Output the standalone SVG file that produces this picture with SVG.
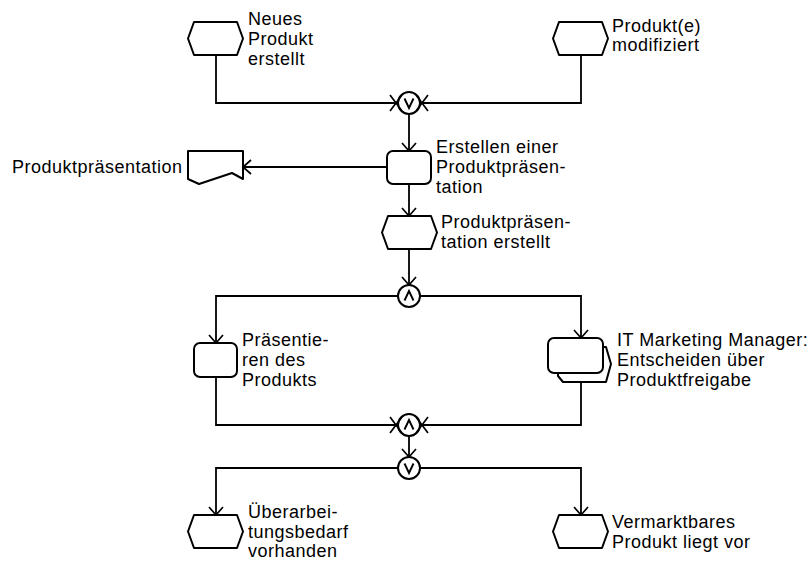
<svg xmlns="http://www.w3.org/2000/svg" xmlns:xlink="http://www.w3.org/1999/xlink" width="810" height="563" viewBox="0 0 810 563">
  <style>
    .shape { fill: #ffffff; stroke: #000000; stroke-width: 2; stroke-linejoin: round; }
    .line { fill: none; stroke: #000000; stroke-width: 1.8; }
    .op { fill: none; stroke: #000000; stroke-width: 1.9; }
    .lbl { font-family: "Liberation Sans", Arial, sans-serif; font-size: 18px; letter-spacing: 0.5px; fill: #000000; }
  </style>
  <defs>
    <marker id="arrow" markerUnits="userSpaceOnUse" viewBox="-10 -9 12 18" refX="0" refY="0" markerWidth="12" markerHeight="18" orient="auto">
      <path d="M-8,-7 L0,0 L-8,7" fill="none" stroke="#000000" stroke-width="1.7"/>
    </marker>
    <g id="xmark">
      <path d="M-6,-8 L6,8 M-6,8 L6,-8" fill="none" stroke="#000000" stroke-width="1.7"/>
    </g>
    <path id="evt" d="M6,0 H49 L55,16.5 L49,33 H6 L0,16.5 Z"/>
  </defs>

  <!-- connectors -->
  <g id="connectors">
    <path class="line" d="M216,55 V103 H398"/>
    <path class="line" d="M581,55 V103 H420"/>
    <path class="line" d="M409,114 V151" marker-end="url(#arrow)"/>
    <path class="line" d="M387,167 H243" marker-end="url(#arrow)"/>
    <path class="line" d="M409,184 V216" marker-end="url(#arrow)"/>
    <path class="line" d="M409,248 V285" marker-end="url(#arrow)"/>
    <path class="line" d="M398,296 H216 V343" marker-end="url(#arrow)"/>
    <path class="line" d="M420,296 H581 V338" marker-end="url(#arrow)"/>
    <path class="line" d="M216,377 V425 H398"/>
    <path class="line" d="M581,382 V425 H420"/>
    <path class="line" d="M409,436 V457" marker-end="url(#arrow)"/>
    <path class="line" d="M398,468 H216 V515" marker-end="url(#arrow)"/>
    <path class="line" d="M420,468 H581 V515" marker-end="url(#arrow)"/>
  </g>

  <!-- events -->
  <g id="ev-neues-produkt">
    <use xlink:href="#evt" class="shape" x="188" y="22"/>
    <text class="lbl" x="248" y="25">Neues</text>
    <text class="lbl" x="248" y="45">Produkt</text>
    <text class="lbl" x="248" y="65">erstellt</text>
  </g>
  <g id="ev-produkt-modifiziert">
    <use xlink:href="#evt" class="shape" x="553" y="22"/>
    <text class="lbl" x="612" y="32">Produkt(e)</text>
    <text class="lbl" x="612" y="51">modifiziert</text>
  </g>

  <!-- rule: XOR -->
  <g id="rule-xor-1">
    <circle class="shape" cx="409" cy="103" r="11"/>
    <path class="op" d="M404.5,98.5 L409,108 L413.5,98.5"/>
    <use xlink:href="#xmark" x="396" y="103"/>
    <use xlink:href="#xmark" x="422" y="103"/>
  </g>

  <!-- function: create presentation -->
  <g id="fn-erstellen">
    <rect class="shape" x="387" y="151" width="44" height="33" rx="6" ry="6"/>
    <text class="lbl" x="436" y="153">Erstellen einer</text>
    <text class="lbl" x="436" y="173">Produktpräsen-</text>
    <text class="lbl" x="436" y="193">tation</text>
  </g>

  <!-- output document -->
  <g id="doc-praesentation">
    <path class="shape" d="M188,151 H243 V179 L232,173 L199,184 L188,179 Z"/>
    <text class="lbl" x="12" y="173">Produktpräsentation</text>
  </g>

  <g id="ev-praesentation-erstellt">
    <use xlink:href="#evt" class="shape" x="382" y="216"/>
    <text class="lbl" x="441" y="228">Produktpräsen-</text>
    <text class="lbl" x="441" y="248">tation erstellt</text>
  </g>

  <!-- rule: AND split -->
  <g id="rule-and-1">
    <circle class="shape" cx="409" cy="296" r="11"/>
    <path class="op" d="M404.5,300.5 L409,291 L413.5,300.5"/>
  </g>

  <g id="fn-praesentieren">
    <rect class="shape" x="194" y="343" width="43" height="34" rx="6" ry="6"/>
    <text class="lbl" x="242" y="346">Präsentie-</text>
    <text class="lbl" x="242" y="366">ren des</text>
    <text class="lbl" x="242" y="386">Produkts</text>
  </g>

  <g id="fn-entscheiden">
    <path class="shape" d="M558,347 H606 L611,364 L606,382 H563 L558,376 Z"/>
    <rect class="shape" x="548" y="338" width="55" height="35" rx="6" ry="6"/>
    <text class="lbl" x="617" y="346">IT Marketing Manager:</text>
    <text class="lbl" x="617" y="366">Entscheiden über</text>
    <text class="lbl" x="617" y="386">Produktfreigabe</text>
  </g>

  <!-- rule: AND join -->
  <g id="rule-and-2">
    <circle class="shape" cx="409" cy="425" r="11"/>
    <path class="op" d="M404.5,429.5 L409,420 L413.5,429.5"/>
    <use xlink:href="#xmark" x="396" y="425"/>
    <use xlink:href="#xmark" x="422" y="425"/>
  </g>

  <!-- rule: XOR split -->
  <g id="rule-xor-2">
    <circle class="shape" cx="409" cy="468" r="11"/>
    <path class="op" d="M404.5,463.5 L409,473 L413.5,463.5"/>
  </g>

  <g id="ev-ueberarbeitung">
    <use xlink:href="#evt" class="shape" x="188" y="515"/>
    <text class="lbl" x="248" y="518">Überarbei-</text>
    <text class="lbl" x="248" y="538">tungsbedarf</text>
    <text class="lbl" x="248" y="557">vorhanden</text>
  </g>

  <g id="ev-vermarktbar">
    <use xlink:href="#evt" class="shape" x="553" y="515"/>
    <text class="lbl" x="612" y="528">Vermarktbares</text>
    <text class="lbl" x="612" y="548">Produkt liegt vor</text>
  </g>
</svg>
